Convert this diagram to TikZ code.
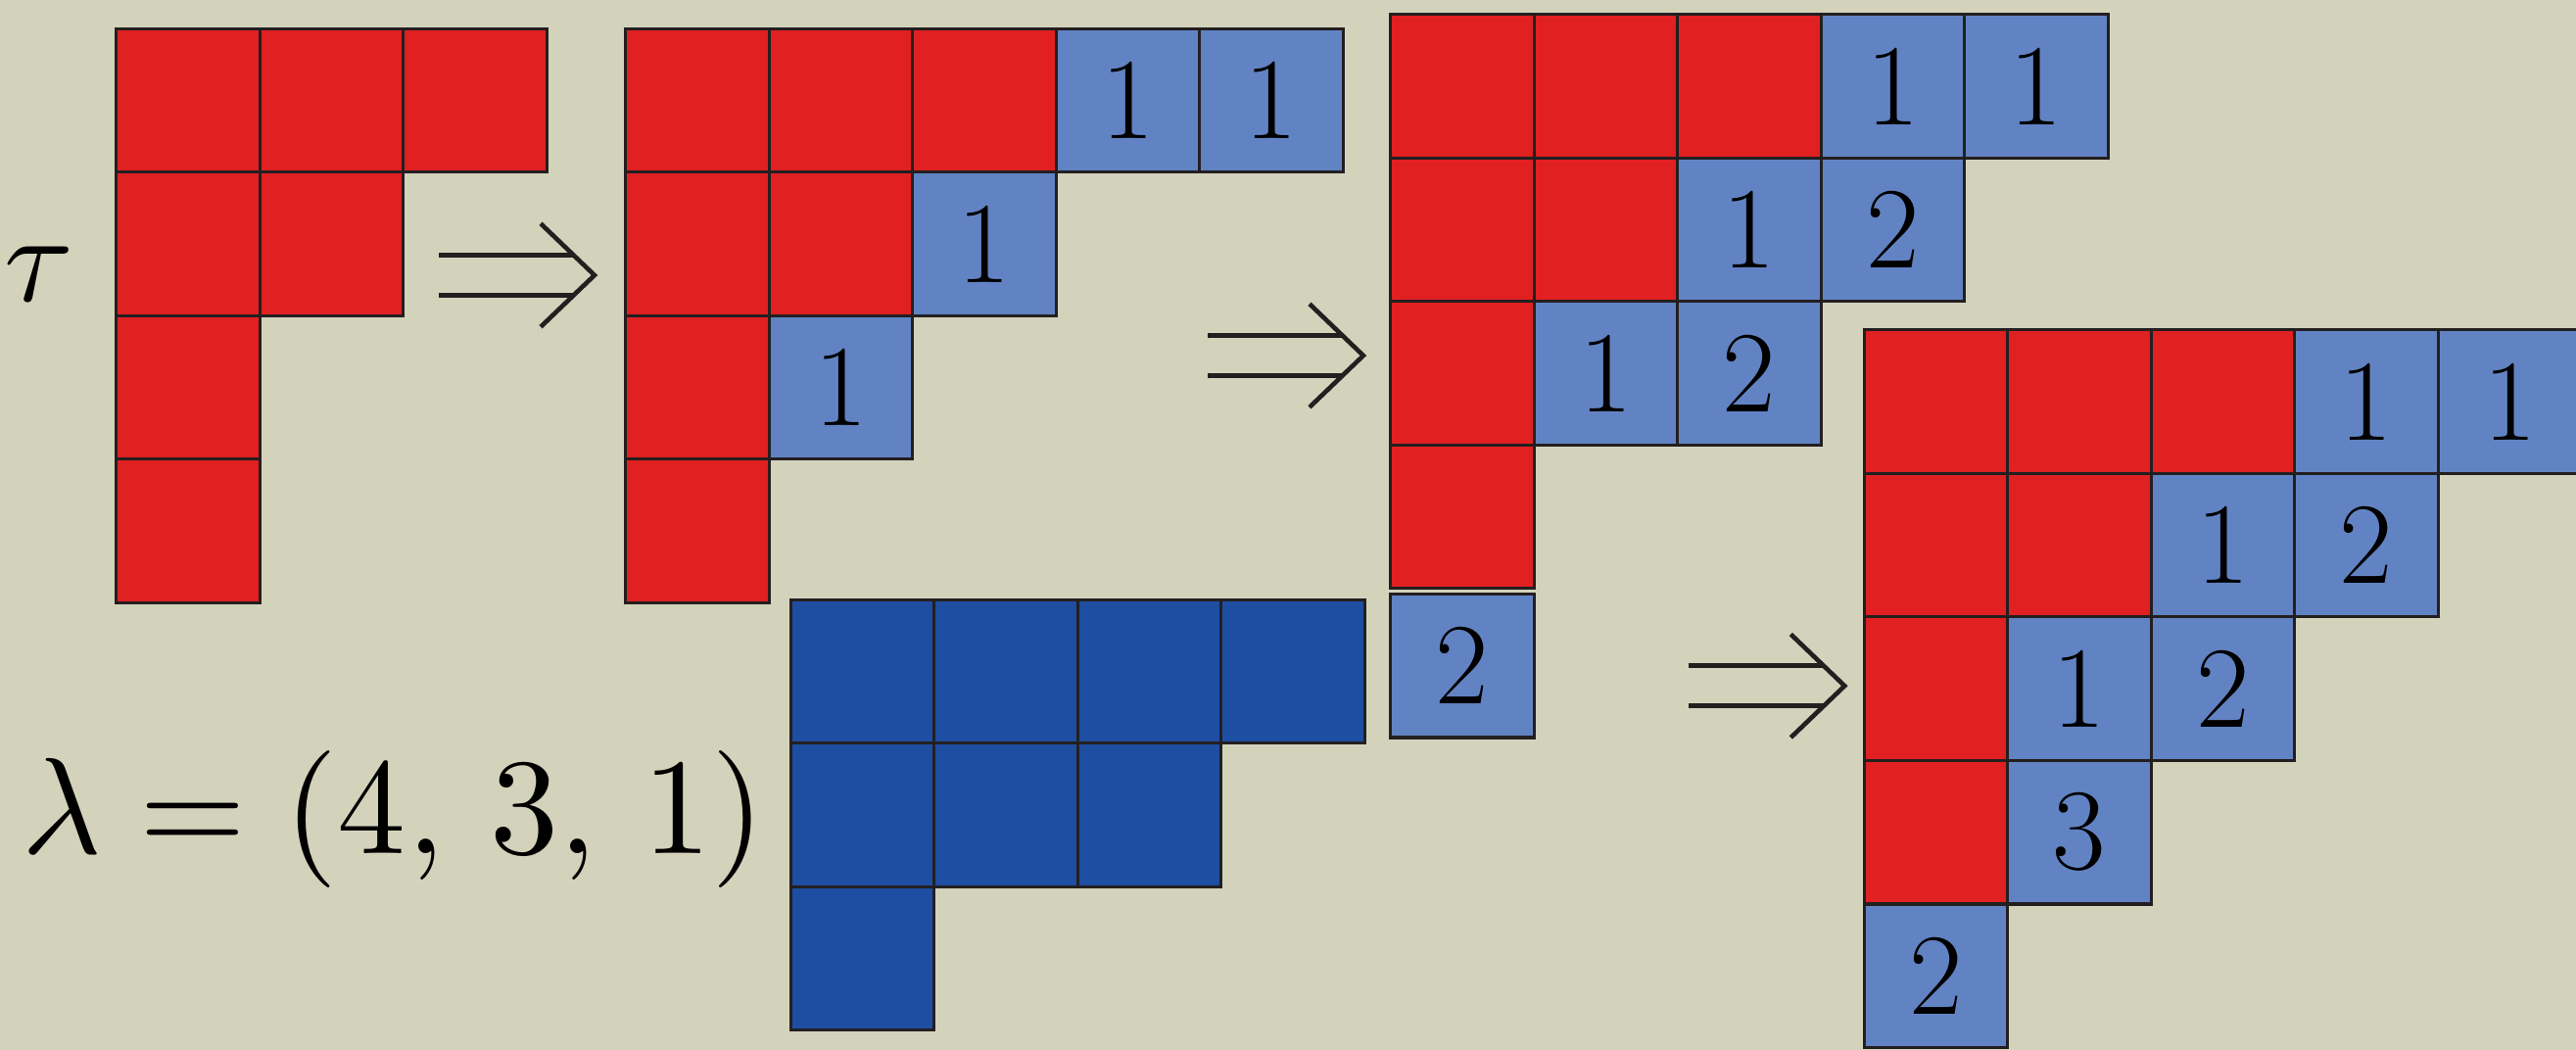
\documentclass[tikz,border=0pt]{standalone}
\usepackage{tikz}
\usetikzlibrary{positioning}
\definecolor{paper}{RGB}{211,211,188}
\definecolor{boxred}{RGB}{224,32,33}
\definecolor{boxblue}{RGB}{98,131,195}
\definecolor{shapeblue}{RGB}{30,78,162}
\definecolor{edge}{RGB}{35,31,32}
\tikzset{
    cell/.style={rectangle, draw=edge, line width=0.6pt, minimum size=1cm, inner sep=0pt, outer sep=0pt, anchor=north west, font=\fontsize{23}{23}\selectfont},
    redcell/.style={cell, fill=boxred},
    bluecell/.style={cell, fill=boxblue},
    lamcell/.style={cell, fill=shapeblue},
    dblarrow/.pic={
        \draw[edge, line width=0.9pt] (0,0.14) -- (0.94,0.14);
        \draw[edge, line width=0.9pt] (0,-0.14) -- (0.94,-0.14);
        \draw[edge, line width=0.9pt] (0.71,0.36) -- (1.085,0) -- (0.71,-0.36);
    },
}

\begin{document}
\begin{tikzpicture}
    \fill[paper] (0,0) rectangle (17.952,-7.317);
    \useasboundingbox (0,0) rectangle (17.952,-7.317);

    % tau
    \node[scale=2.5, inner sep=0pt] (tau) at (0.27,-1.91) {$\tau$};
    \foreach \i/\j in {0/0,1/0,2/0,0/1,1/1,0/2,0/3} {
        \node[redcell] (t\i\j) at (0.81+\i,-0.2-\j) {};
    }

    % first step
    \foreach \i/\j in {0/0,1/0,2/0,0/1,1/1,0/2,0/3} {
        \node[redcell] (a\i\j) at (4.36+\i,-0.2-\j) {};
    }
    \foreach \i/\j/\n in {3/0/1,4/0/1,2/1/1,1/2/1} {
        \node[bluecell] (a\i\j) at (4.36+\i,-0.2-\j) {\n};
    }

    % second step
    \foreach \i/\j in {0/0,1/0,2/0,0/1,1/1,0/2,0/3} {
        \node[redcell] (b\i\j) at (9.69+\i,-0.1-\j) {};
    }
    \foreach \i/\j/\n in {3/0/1,4/0/1,2/1/1,3/1/2,1/2/1,2/2/2} {
        \node[bluecell] (b\i\j) at (9.69+\i,-0.1-\j) {\n};
    }
    \node[bluecell] (b04) at (9.69,-4.14) {2};

    % third step
    \foreach \i/\j in {0/0,1/0,2/0,0/1,1/1,0/2,0/3} {
        \node[redcell] (c\i\j) at (12.99+\i,-2.3-\j) {};
    }
    \foreach \i/\j/\n in {3/0/1,4/0/1,2/1/1,3/1/2,1/2/1,2/2/2,1/3/3,0/4/2} {
        \node[bluecell] (c\i\j) at (12.99+\i,-2.3-\j) {\n};
    }

    % lambda
    \foreach \i/\j in {0/0,1/0,2/0,3/0,0/1,1/1,2/1,0/2} {
        \node[lamcell] (l\i\j) at (5.51+\i,-4.18-\j) {};
    }
    \node[anchor=base, scale=2.72, inner sep=0pt] (lam) at (2.74,-5.952) {$\lambda = (4,\,3,\,1)$};

    % arrows
    \pic at (3.058,-1.918) {dblarrow};
    \pic at (8.416,-2.478) {dblarrow};
    \pic at (11.77,-4.78) {dblarrow};
\end{tikzpicture}
\end{document}
